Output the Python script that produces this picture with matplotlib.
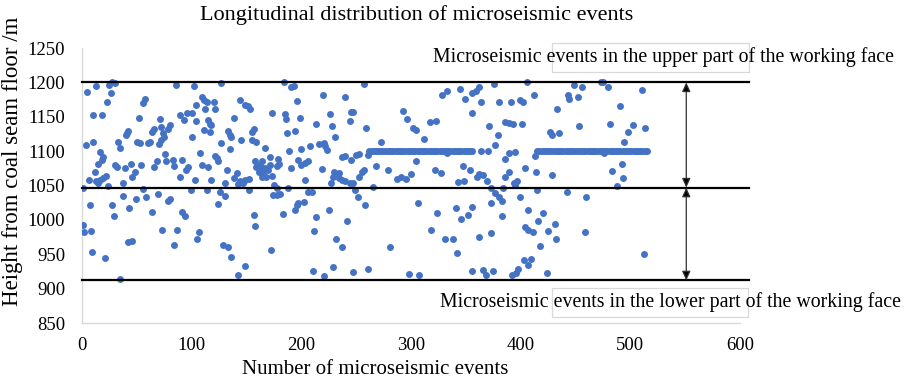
import matplotlib
matplotlib.use("Agg")
import matplotlib.pyplot as plt
from matplotlib.patches import Rectangle, FancyArrowPatch

plt.rcParams['font.family'] = ['Liberation Serif', 'DejaVu Serif']

# ---- data ----
# scattered events: (event number, height /m)
events_a_x = [1, 5, 13, 25, 27, 30, 26, 23, 10, 18, 57, 56, 52, 71, 80, 78, 66, 64, 72, 74, 75, 42, 41, 40, 50, 53, 60, 62, 70, 72,
              33, 35, 4, 10, 16, 19, 18, 15, 30, 32, 39, 45, 48, 46, 54, 68, 66, 76, 77, 83, 84, 12, 6, 13, 16, 19, 22, 15, 24, 37,
              56, 37, 49, 58, 69, 78, 80, 7, 27, 29, 43, 64, 1, 2, 8, 73, 87, 42, 46, 84, 9, 21, 35]
events_a_y = [1047, 1186, 1195, 1196, 1201, 1199, 1184, 1171, 1152, 1152, 1176, 1170, 1148, 1147, 1138, 1132, 1132, 1128, 1135, 1126,
              1121, 1130, 1126, 1123, 1114, 1112, 1112, 1114, 1111, 1116, 1114, 1104, 1109, 1114, 1099, 1092, 1087, 1082, 1080, 1077,
              1076, 1082, 1070, 1062, 1080, 1086, 1077, 1096, 1086, 1087, 1078, 1070, 1058, 1056, 1058, 1061, 1064, 1053, 1050, 1053,
              1045, 1035, 1031, 1033, 1037, 1028, 1030, 1022, 1022, 1005, 1017, 1011, 992, 982, 984, 986, 985, 968, 970, 964,
              954, 945, 914]

events_b_x = [86, 102, 127, 109, 111, 114, 120, 104, 112, 121, 144, 149, 151, 153, 89, 96, 100, 93, 104, 115, 117, 118, 139, 173,
              111, 117, 133, 135, 155, 157, 100, 127, 136, 145, 155, 159, 135, 167, 171, 108, 121, 123, 124, 91, 97, 95, 109, 115,
              132, 158, 162, 164, 167, 162, 165, 170, 164, 168, 173, 159, 161, 171, 141, 139, 144, 149, 152, 147, 142, 89, 103,
              118, 130, 99, 114, 126, 130, 152, 174, 124, 91, 94, 157, 158, 107, 105, 129, 133, 172, 136, 149, 142]
events_b_y = [1196, 1195, 1199, 1179, 1175, 1172, 1172, 1167, 1162, 1162, 1174, 1167, 1165, 1161, 1153, 1155, 1155, 1145, 1144, 1146,
              1140, 1138, 1148, 1155, 1131, 1128, 1130, 1124, 1128, 1132, 1120, 1112, 1121, 1116, 1116, 1113, 1103, 1104, 1092,
              1098, 1093, 1090, 1085, 1087, 1077, 1073, 1080, 1077, 1073, 1085, 1080, 1086, 1075, 1073, 1068, 1073, 1063, 1063,
              1064, 1077, 1070, 1080, 1068, 1061, 1056, 1058, 1059, 1054, 1052, 1063, 1058, 1058, 1054, 1044, 1044, 1040, 1035,
              1044, 1036, 1023, 1012, 1006, 1007, 991, 982, 973, 964, 961, 957, 946, 933, 920]

events_c_x = [184, 191, 193, 257, 220, 196, 240, 185, 186, 199, 226, 245, 247, 244, 213, 228, 259, 187, 194, 231, 216, 221, 222,
              223, 208, 200, 189, 179, 180, 178, 197, 200, 203, 206, 191, 237, 240, 245, 250, 253, 261, 219, 230, 232, 234, 237,
              240, 244, 247, 253, 255, 257, 229, 234, 175, 178, 188, 203, 227, 178, 181, 206, 210, 249, 252, 258, 197, 202, 196,
              194, 183, 213, 225, 242, 212, 232, 237, 211, 221, 229, 247, 261]
events_c_y = [1200, 1193, 1195, 1198, 1182, 1173, 1179, 1154, 1147, 1148, 1154, 1157, 1157, 1144, 1140, 1137, 1133, 1127, 1129,
              1120, 1111, 1112, 1108, 1102, 1108, 1103, 1100, 1088, 1082, 1078, 1087, 1080, 1083, 1086, 1075, 1091, 1093, 1087,
              1094, 1096, 1094, 1074, 1070, 1065, 1061, 1058, 1056, 1054, 1054, 1063, 1070, 1073, 1063, 1068, 1051, 1047, 1047,
              1058, 1053, 1036, 1038, 1040, 1040, 1043, 1034, 1021, 1025, 1026, 1022, 1015, 1009, 1004, 1015, 998, 984, 972, 961,
              926, 919, 931, 924, 928]

events_d_x = [328, 333, 345, 349, 293, 296, 302, 305, 317, 323, 312, 273, 305, 333, 268, 279, 287, 291, 295, 300, 322, 327, 347,
              343, 348, 265, 306, 341, 346, 352, 324, 318, 331, 338, 342, 281, 298, 307]
events_d_y = [1182, 1187, 1190, 1176, 1159, 1147, 1133, 1131, 1143, 1144, 1117, 1113, 1086, 1097, 1078, 1073, 1060, 1063, 1059,
              1067, 1073, 1068, 1078, 1055, 1057, 1048, 1025, 1018, 1001, 1007, 1010, 985, 972, 972, 952, 960, 921, 920]

events_e_x = [364, 370, 362, 359, 356, 376, 406, 412, 433, 364, 380, 391, 399, 402, 356, 386, 389, 393, 401, 371, 379, 427, 429,
              435, 377, 389, 395, 386, 413, 354, 362, 360, 366, 369, 389, 386, 404, 414, 429, 394, 397, 395, 373, 384, 377, 380,
              383, 399, 415, 356, 373, 383, 407, 420, 416, 431, 404, 407, 411, 425, 432, 362, 373, 418, 403, 409, 407, 356, 366,
              368, 375, 392, 396, 398, 424]
events_e_y = [1100, 1100, 1193, 1188, 1185, 1197, 1201, 1182, 1162, 1171, 1172, 1171, 1175, 1171, 1156, 1142, 1141, 1140, 1140,
              1136, 1124, 1128, 1124, 1126, 1109, 1098, 1099, 1088, 1093, 1072, 1067, 1062, 1065, 1057, 1070, 1062, 1075, 1069,
              1065, 1054, 1056, 1051, 1047, 1047, 1039, 1034, 1028, 1033, 1043, 1019, 1024, 1005, 1014, 1010, 999, 994, 990, 986,
              983, 984, 972, 975, 981, 962, 942, 943, 935, 926, 927, 920, 926, 920, 923, 928, 923]

events_f_x = [449, 456, 473, 475, 480, 511, 443, 444, 452, 491, 453, 481, 502, 498, 513, 494, 476, 492, 483, 493, 488, 442, 460,
              459, 512]
events_f_y = [1196, 1193, 1201, 1200, 1194, 1189, 1182, 1176, 1179, 1166, 1136, 1139, 1138, 1128, 1134, 1113, 1097, 1081, 1071,
              1061, 1049, 1041, 1034, 983, 951]

# events recorded at the fixed height of 1100 m (the two flat runs)
band1_x = [262, 264, 266, 268, 270, 272, 274, 276, 278, 280, 282, 284, 286, 288, 290, 292, 294, 296, 298, 300, 302, 304, 306,
           308, 310, 312, 314, 316, 318, 320, 322, 324, 326, 328, 330, 332, 334, 336, 338, 340, 342, 344, 346, 348, 350, 352,
           354, 356]
band2_x = [415, 417, 419, 421, 423, 425, 427, 429, 431, 433, 435, 437, 439, 441, 443, 445, 447, 449, 451, 453, 455, 457, 459,
           461, 463, 465, 467, 469, 471, 473, 475, 477, 479, 481, 483, 485, 487, 489, 491, 493, 495, 497, 499, 501, 503, 505,
           507, 509, 511, 513, 515]
band_height = 1100

# zone boundaries /m
upper_limit = 1200
middle_limit = 1047
lower_limit = 912

x_ticks = [0, 100, 200, 300, 400, 500, 600]
y_ticks = [850, 900, 950, 1000, 1050, 1100, 1150, 1200, 1250]

# ---- figure ----
fig = plt.figure(figsize=(9.06, 3.81), dpi=100)
ax = fig.add_axes([0.0905, 0.152, 0.7263, 0.722])

blue = '#4472C4'
ms = 25
for xs, ys in [(events_a_x, events_a_y), (events_b_x, events_b_y), (events_c_x, events_c_y),
               (events_d_x, events_d_y), (events_e_x, events_e_y), (events_f_x, events_f_y)]:
    ax.scatter(xs, ys, s=ms, color=blue, linewidths=0, zorder=3)
ax.scatter(band1_x, [band_height] * len(band1_x), s=ms, color=blue, linewidths=0, zorder=3)
ax.scatter(band2_x, [band_height] * len(band2_x), s=ms, color=blue, linewidths=0, zorder=3)

ax.set_xlim(0, 600)
ax.set_ylim(850, 1250)
ax.set_xticks(x_ticks)
ax.set_yticks(y_ticks)
ax.tick_params(length=0, labelsize=13.5)
ax.tick_params(axis='y', pad=12)
ax.tick_params(axis='x', pad=10)
for s in ['top', 'right']:
    ax.spines[s].set_visible(False)
for s in ['left', 'bottom']:
    ax.spines[s].set_color('#d9d9d9')
    ax.spines[s].set_linewidth(1.0)

# boundary lines
for yv in [upper_limit, middle_limit, lower_limit]:
    ax.plot([0, 608], [yv, yv], color='black', lw=1.6, clip_on=False, zorder=4)

# double arrows
for y0, y1 in [(upper_limit, middle_limit), (middle_limit, lower_limit)]:
    arr = FancyArrowPatch((551, y0), (551, y1), arrowstyle='<|-|>,head_length=0.55,head_width=0.25',
                          mutation_scale=10, color='#303030', lw=0.9, shrinkA=0, shrinkB=0,
                          clip_on=False, zorder=5)
    arr.set_facecolor('black')
    ax.add_patch(arr)

# text boxes (light borders)
fig.patches.append(Rectangle((552 / 906, 1 - 72 / 381), 197 / 906, 29 / 381, transform=fig.transFigure,
                             fill=False, edgecolor='#d9d9d9', lw=0.9, zorder=1))
fig.patches.append(Rectangle((552 / 906, 1 - 317 / 381), 196 / 906, 29 / 381, transform=fig.transFigure,
                             fill=False, edgecolor='#d9d9d9', lw=0.9, zorder=1))

fig.text(433 / 906, 1 - 57 / 381, 'Microseismic events in the upper part of the working face',
         ha='left', va='center', fontsize=14.3)
fig.text(440 / 906, 1 - 302 / 381, 'Microseismic events in the lower part of the working face',
         ha='left', va='center', fontsize=14.3)

fig.text(417 / 906, 1 - 15 / 381, 'Longitudinal distribution of microseismic events',
         ha='center', va='center', fontsize=16)
fig.text(375 / 906, 1 - 370 / 381, 'Number of microseismic events',
         ha='center', va='center', fontsize=15)
fig.text(13 / 906, 1 - 161 / 381, 'Height from coal seam floor /m',
         ha='center', va='center', rotation=90, fontsize=16.5)

fig.savefig('out.png', dpi=100)
